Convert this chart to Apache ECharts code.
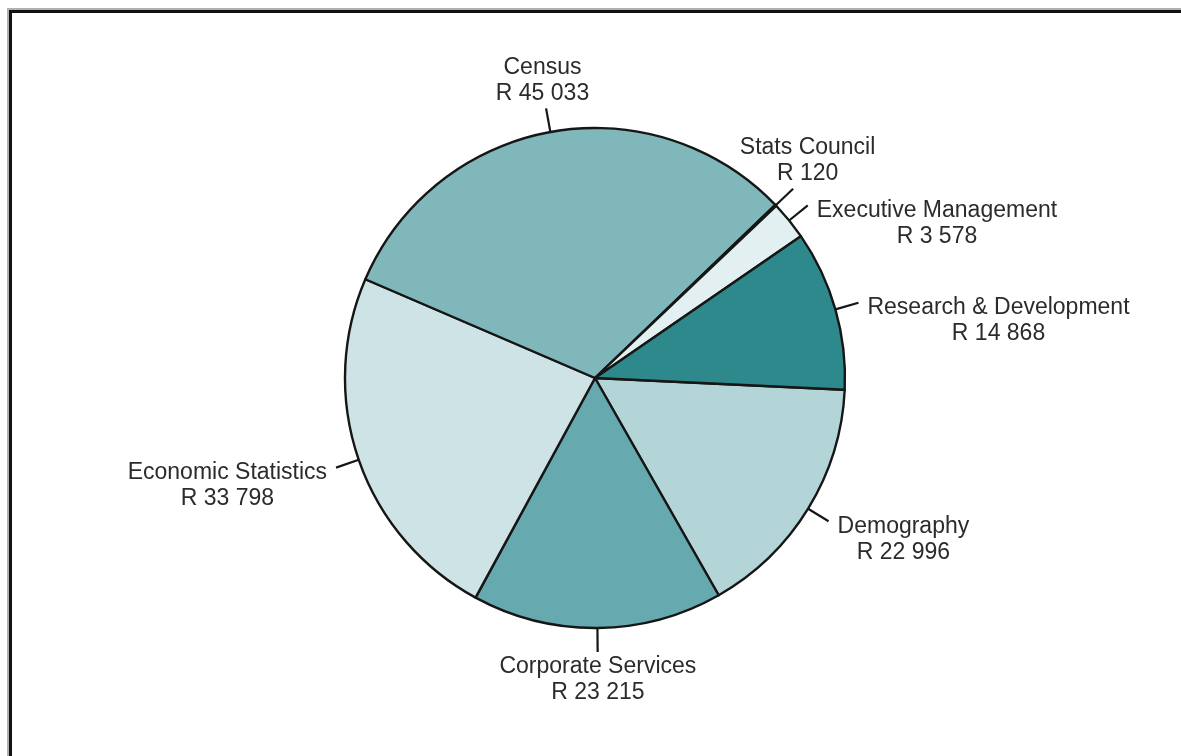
<!DOCTYPE html>
<html>
<head>
<meta charset="utf-8">
<title>Budget by programme</title>
<script src="https://cdn.jsdelivr.net/npm/echarts@6/dist/echarts.min.js"></script>
<style>
  html, body { margin: 0; padding: 0; background: #ffffff; }
  #chart { width: 1181px; height: 756px; }
</style>
</head>
<body>
<div id="chart"></div>
<script>
// Programme budgets (rand thousands), listed clockwise from the 3 o'clock edge
const programmes = [
  'Demography',
  'Corporate Services',
  'Economic Statistics',
  'Census',
  'Stats Council',
  'Executive Management',
  'Research & Development'
];
const amounts = [22996, 23215, 33798, 45033, 120, 3578, 14868];
const sliceColors = ['#b3d5d8', '#66a9ae', '#cde3e6', '#7fb7ba', '#f4f9f9', '#e3f0f1', '#2e898d'];

const CX = 595, CY = 378, R = 250;
const START = -2.7;       // degrees, counter-clockwise from 3 o'clock
const LEAD = 24;          // leader line length
const GAP = 9;            // space between leader end and side labels
const total = amounts.reduce((a, b) => a + b, 0);

function rand(v) {
  return 'R ' + String(v).replace(/\B(?=(\d{3})+(?!\d))/g, ' ');
}

// Mid angle (radians, math convention) of slice i, clockwise layout
function midAngle(i) {
  let cum = 0;
  for (let k = 0; k < i; k++) cum += amounts[k];
  const deg = START - (cum + amounts[i] / 2) / total * 360;
  return deg * Math.PI / 180;
}

const chart = echarts.init(document.getElementById('chart'), null, { renderer: 'canvas' });

chart.setOption({
  backgroundColor: '#ffffff',
  animation: false,
  graphic: [
    { type: 'rect', shape: { x: 7, y: 8, width: 1174, height: 2 }, style: { fill: '#b0b0b0' } },
    { type: 'rect', shape: { x: 7, y: 8, width: 2, height: 748 }, style: { fill: '#b0b0b0' } },
    { type: 'rect', shape: { x: 9, y: 10, width: 1172, height: 3 }, style: { fill: '#111111' } },
    { type: 'rect', shape: { x: 9, y: 10, width: 3, height: 746 }, style: { fill: '#111111' } }
  ],
  series: [{
    type: 'pie',
    center: [CX, CY],
    radius: R,
    startAngle: START,
    clockwise: true,
    sort: false,
    avoidLabelOverlap: false,
    minShowLabelAngle: 0,
    data: programmes.map((name, i) => ({
      name: name,
      value: amounts[i],
      itemStyle: { color: sliceColors[i] }
    })),
    itemStyle: { borderColor: '#161616', borderWidth: 2.4 },
    emphasis: { disabled: true },
    label: {
      show: true,
      position: 'outside',
      formatter: p => p.name + '\n' + rand(p.value),
      fontFamily: 'Liberation Sans, Arial, sans-serif',
      fontSize: 23,
      lineHeight: 26,
      color: '#2b2b2b',
      align: 'center'
    },
    labelLine: {
      show: true,
      length: LEAD,
      length2: 0,
      lineStyle: { color: '#161616', width: 2.2 }
    },
    labelLayout: function (params) {
      const a = midAngle(params.dataIndex);
      const dx = Math.cos(a), dy = -Math.sin(a);
      const edge = [CX + R * dx, CY + R * dy];
      const end = [CX + (R + LEAD) * dx, CY + (R + LEAD) * dy];
      const w = params.labelRect.width;
      const out = { labelLinePoints: [edge, end], align: 'center' };
      if (Math.abs(dy) > 0.66) {
        out.x = end[0] + dx * 20;
        if (dy < 0) { out.y = end[1] - 2; out.verticalAlign = 'bottom'; }
        else { out.y = end[1] + 2; out.verticalAlign = 'top'; }
      } else {
        out.x = dx > 0 ? end[0] + GAP + w / 2 : end[0] - GAP - w / 2;
        out.y = end[1] - 8;
        out.verticalAlign = 'top';
      }
      return out;
    }
  }]
});
</script>
</body>
</html>
